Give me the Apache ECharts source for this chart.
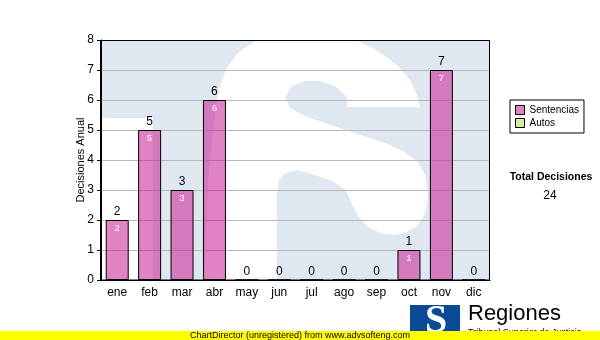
<!DOCTYPE html>
<html>
<head>
<meta charset="utf-8">
<script src="https://cdn.jsdelivr.net/npm/echarts@6/dist/echarts.min.js"></script>
<style>
html,body{margin:0;padding:0;background:#fff;}
#chart{width:600px;height:340px;}
</style>
</head>
<body>
<div id="chart"></div>
<script>
const categories = ['ene','feb','mar','abr','may','jun','jul','ago','sep','oct','nov','dic'];
const sentencias = [2,5,3,6,0,0,0,0,0,1,7,0];
const autos = [0,0,0,0,0,0,0,0,0,0,0,0];
const seriesNames = ['Sentencias','Autos'];
const yMin = 0, yMax = 8, yInterval = 1;
const yAxisTitle = 'Decisiones Anual';
const totalTitle = 'Total Decisiones';
const footerText = 'ChartDirector (unregistered) from www.advsofteng.com';

const total = sentencias.reduce((a,b)=>a+b,0) + autos.reduce((a,b)=>a+b,0);
const FONT = '"Liberation Sans", Arial, sans-serif';
const WM = '#dfe8f1';

const chart = echarts.init(document.getElementById('chart'), null, {renderer:'canvas'});
chart.setOption({
  animation:false,
  backgroundColor:'#fff',
  textStyle:{fontFamily:FONT},
  grid:{left:101,top:40,width:389,height:240,show:false},
  legend:{
    orient:'vertical', left:510, top:100,
    padding:[5,5,5,5], itemWidth:9, itemHeight:9, itemGap:3,
    borderColor:'#000', borderWidth:1, backgroundColor:'#fff',
    textStyle:{fontSize:10, color:'#000', fontFamily:FONT},
    icon:'rect',
    data:[
      {name:seriesNames[0], itemStyle:{color:'#df80c0', borderColor:'#000', borderWidth:1}},
      {name:seriesNames[1], itemStyle:{color:'#d8eca0', borderColor:'#000', borderWidth:1}}
    ]
  },
  xAxis:{
    type:'category', data:categories, boundaryGap:true,
    axisLine:{lineStyle:{color:'#000',width:1}},
    axisTick:{alignWithLabel:true,length:4,lineStyle:{color:'#000'}},
    axisLabel:{fontSize:12,color:'#000',margin:7,fontFamily:FONT},
    splitLine:{show:false}
  },
  yAxis:{
    type:'value', min:yMin, max:yMax, interval:yInterval,
    name:yAxisTitle, nameLocation:'middle', nameGap:15, nameRotate:90,
    nameMoveOverlap:false,
    nameTextStyle:{fontSize:11,color:'#000',fontFamily:FONT},
    axisLine:{show:true,lineStyle:{color:'#000',width:1}},
    axisTick:{show:true,length:4,lineStyle:{color:'#000'}},
    axisLabel:{fontSize:12,color:'#000',margin:7,fontFamily:FONT},
    splitLine:{show:true,lineStyle:{color:'#b8b8b8',width:1}}
  },
  series:[
    {
      name:seriesNames[0], type:'bar', stack:'d', data:sentencias, barWidth:23,
      itemStyle:{color:'rgba(200,30,146,0.55)', borderColor:'#000', borderWidth:1},
      label:{show:true, position:'insideTop', distance:4, color:'#fff', fontSize:9, fontFamily:FONT,
        formatter:p=> p.value ? String(p.value) : ''}
    },
    {
      name:seriesNames[1], type:'bar', stack:'d', data:autos, barWidth:23,
      itemStyle:{color:'#d8eca0', borderWidth:0},
      label:{show:true, position:'top', distance:2, color:'#000', fontSize:12, fontFamily:FONT,
        formatter:p=> String(sentencias[p.dataIndex] + autos[p.dataIndex])}
    }
  ],
  graphic:[
    {type:'rect', z:-10, shape:{x:101,y:41,width:389,height:239}, style:{fill:WM}},
    {type:'rect', z:-9, shape:{x:101,y:118,width:52,height:162}, style:{fill:'#fff'}},
    {type:'polygon', z:-9, shape:{points:[
      [255,41],[357,41],[373,48],[388,58],[400,68],[410,80],[417,95],[420,107],[347,107],[347,97],
      [335,86],[320,81],[305,81],[292,86],[285,97],[290,108],[305,116],[325,123],[360,135],[385,143],
      [403,151],[418,162],[425,175],[428,195],[426,212],[417,226],[405,233],[393,235],[380,233],[368,227],
      [358,216],[352,204],[346,190],[332,181],[315,175],[297,170],[285,173],[279,181],[277,192],[277,280],
      [205,280],[206,230],[208,180],[211,150],[214,125],[217,100],[220,85],[226,69],[238,53]
    ]}, style:{fill:'#fff'}},
    {type:'rect', z:40, shape:{x:100.5,y:40.5,width:389,height:239.5}, style:{fill:'none',stroke:'#000',lineWidth:1}},
    {type:'text', style:{x:551,y:177,text:totalTitle,fill:'#000',font:'bold 10.5px '+FONT,textAlign:'center',textVerticalAlign:'middle'}},
    {type:'text', style:{x:550,y:196,text:String(total),fill:'#000',font:'12px '+FONT,textAlign:'center',textVerticalAlign:'middle'}},
    {type:'rect', shape:{x:410,y:305,width:50,height:35}, style:{fill:'#0b4a97'}},
    {type:'text', style:{x:436,y:322,text:'S',fill:'#fff',font:'bold 40px "Liberation Serif", "DejaVu Serif", serif',textAlign:'center',textVerticalAlign:'middle'}},
    {type:'text', style:{x:468,y:314,text:'Regiones',fill:'#000',font:'22px '+FONT,textAlign:'left',textVerticalAlign:'middle'}},
    {type:'text', style:{x:468,y:328,text:'Tribunal Superior de Justicia',fill:'#000',font:'9px '+FONT,textAlign:'left',textVerticalAlign:'top'}},
    {type:'rect', z:50, shape:{x:0,y:331,width:600,height:9}, style:{fill:'#ffff00'}},
    {type:'text', z:51, style:{x:300,y:336,text:footerText,fill:'#000',font:'9px '+FONT,textAlign:'center',textVerticalAlign:'middle'}}
  ]
});
</script>
</body>
</html>
